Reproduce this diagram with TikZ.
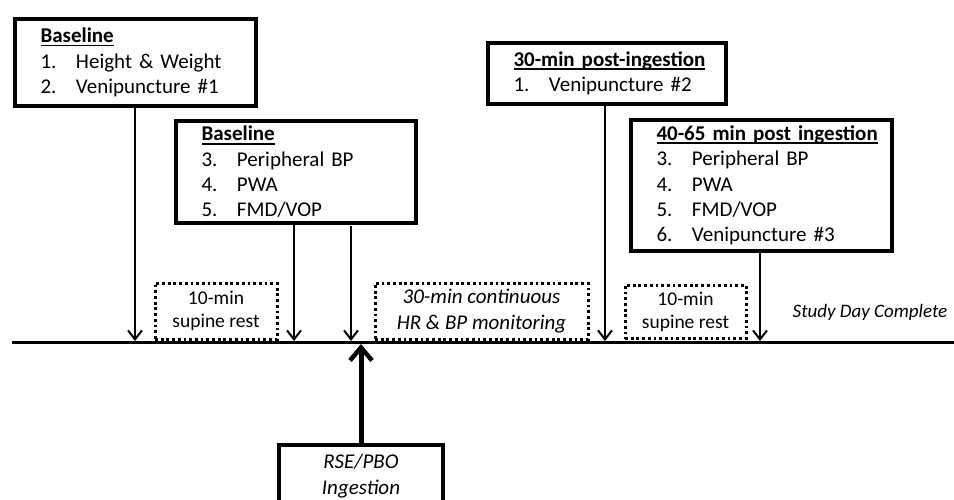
\documentclass[tikz,border=0pt]{standalone}
\usepackage{fontspec}
\setmainfont{Carlito}
\usetikzlibrary{arrows.meta}
\tikzset{
  solidbox/.style={draw, line width=4pt, rectangle, anchor=north west, align=left,
    inner xsep=25.5pt, inner ysep=0pt, font=\fontsize{21}{25.3}\selectfont},
  restbox/.style={draw, line width=3pt, dash pattern=on 2.8pt off 2.9pt, rectangle,
    anchor=north west, align=center, inner sep=0pt, font=\fontsize{19.5}{23}\selectfont},
  monbox/.style={restbox, font=\fontsize{21}{26}\selectfont\itshape},
  thinarrow/.style={line width=2pt, -{Straight Barb[length=9pt,width=14pt,line width=2pt]}},
  thickarrow/.style={line width=5pt, -{Straight Barb[length=13pt,width=22pt,line width=4.5pt]}},
  timeline/.style={line width=3pt},
  plainlabel/.style={inner sep=0pt, font=\fontsize{19}{23}\selectfont\itshape}
}
\newcommand{\itm}[2]{\makebox[35.5pt][l]{#1}#2}
\newcommand{\ulx}[1]{\setbox0\hbox{#1}\rlap{\rule[-3.6pt]{\wd0}{1.8pt}}\box0}
\begin{document}
\begin{tikzpicture}[x=1pt,y=-1pt]
\useasboundingbox (0,0) rectangle (954,499);
\clip (0,0) rectangle (954,499);
\fill[white] (0,0) rectangle (954,499);

% timeline
\coordinate (tl0) at (12,342);
\coordinate (tl1) at (954,342);
\draw[timeline] (tl0) -- (tl1);

% solid boxes
\node[solidbox, minimum width=241pt, minimum height=87pt, text width=190pt] (A) at (13,17)
  {\ulx{\textbf{Baseline}}\\ \itm{1.}{Height \& Weight}\\ \itm{2.}{Venipuncture \#1}};
\node[solidbox, minimum width=240pt, minimum height=102pt, text width=189pt] (B) at (174,119)
  {\ulx{\textbf{Baseline}}\\ \itm{3.}{Peripheral BP}\\ \itm{4.}{PWA}\\ \itm{5.}{FMD/VOP}};
\node[solidbox, minimum width=238pt, minimum height=61pt, text width=187pt] (C) at (486,41)
  {\ulx{\textbf{30-min post-ingestion}}\\ \itm{1.}{Venipuncture \#2}};
\node[solidbox, minimum width=261pt, minimum height=131pt, text width=210pt] (D) at (629,118)
  {\ulx{\textbf{40-65 min post ingestion}}\\ \itm{3.}{Peripheral BP}\\ \itm{4.}{PWA}\\ \itm{5.}{FMD/VOP}\\ \itm{6.}{Venipuncture \#3}};
\node[draw, line width=4.5pt, rectangle, minimum width=164pt, minimum height=62pt, inner sep=0pt,
  align=center, font=\fontsize{21}{26}\selectfont\itshape] (E) at (361,476) {RSE/PBO\\Ingestion};

% dotted boxes
\node[restbox, minimum width=122pt, minimum height=56.5pt] (R1) at (153.5,281.5) {10-min\\supine rest};
\node[monbox, minimum width=213pt, minimum height=56.5pt] (R2) at (373.5,281.5) {30-min continuous\\HR \& BP monitoring};
\node[restbox, minimum width=121pt, minimum height=53.5pt] (R3) at (623.5,283.5) {10-min\\supine rest};

\node[plainlabel] (done) at (870,312) {Study Day Complete};

% arrows
\coordinate (a1) at ([xshift=122pt]A.south west);
\coordinate (b1) at ([xshift=120pt]B.south west);
\coordinate (b2) at (351,226);
\coordinate (c1) at ([xshift=119pt]C.south west);
\coordinate (d1) at ([xshift=131pt]D.south west);
\draw[thinarrow, shorten >=1pt] (a1) -- (a1 |- tl0);
\draw[thinarrow, shorten >=1pt] (b1) -- (b1 |- tl0);
\draw[thinarrow, shorten >=1pt] (b2) -- (b2 |- tl0);
\draw[thinarrow, shorten >=1pt] (c1) -- (c1 |- tl0);
\draw[thinarrow, shorten >=1pt] (d1) -- (d1 |- tl0);
\draw[thickarrow, shorten >=2pt] (E.north) -- (E.north |- tl0);
\end{tikzpicture}
\end{document}
